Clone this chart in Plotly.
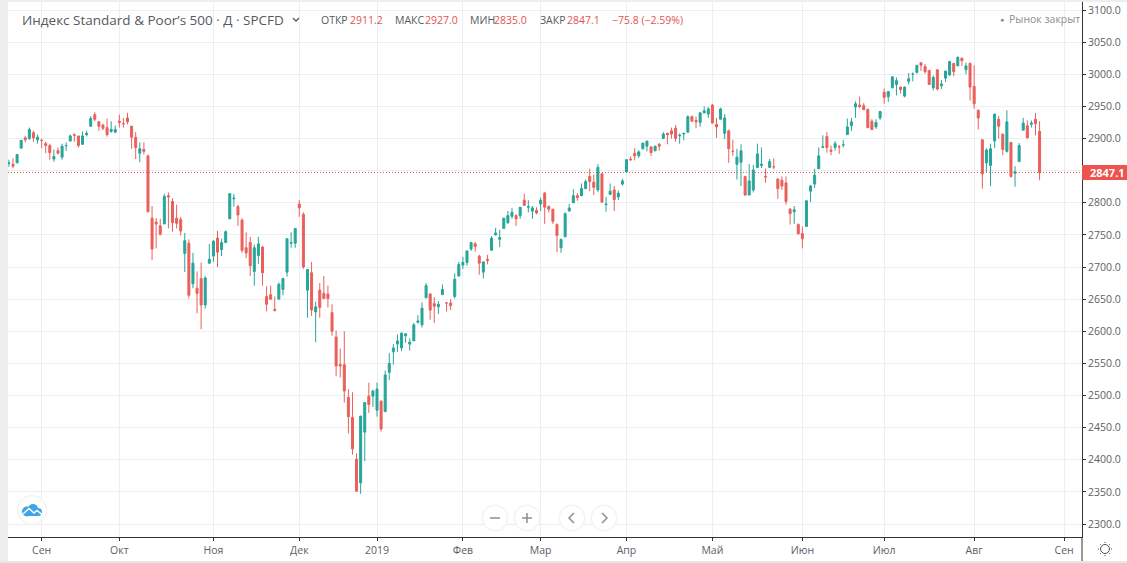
import plotly.graph_objects as go

# daily bars from 22 Aug 2018 to 23 Aug 2019
opens = [
    2861, 2860, 2862, 2885, 2901, 2900, 2909, 2898,
    2897, 2892, 2889, 2868, 2881, 2871, 2889, 2896, 2906, 2904, 2891, 2906, 2919, 2937, 2926, 2921, 2917, 2911, 2910,
    2927, 2923, 2932, 2919, 2902, 2877, 2883, 2873, 2776, 2770, 2764, 2767, 2811, 2802, 2776, 2774, 2721, 2737, 2674, 2667, 2682, 2641, 2706,
    2717, 2745, 2727, 2738, 2775, 2806, 2794, 2773, 2730, 2738, 2693, 2718, 2731, 2654, 2657, 2634, 2650, 2665, 2692, 2737, 2737,
    2798, 2782, 2664, 2691, 2630, 2664, 2659, 2658, 2629, 2591, 2548, 2548, 2497, 2466, 2401, 2364, 2443, 2499, 2499,
    2477, 2491, 2475, 2536, 2568, 2580, 2574, 2593, 2580, 2585, 2614, 2610, 2652, 2658, 2643, 2638, 2657, 2644, 2644, 2654, 2686,
    2703, 2707, 2728, 2736, 2717, 2692, 2712, 2726, 2750, 2743, 2760, 2769, 2779, 2780, 2780, 2804, 2793, 2787, 2788,
    2798, 2815, 2794, 2790, 2766, 2730, 2747, 2787, 2800, 2811, 2811, 2822, 2841, 2832, 2820, 2845, 2797, 2813, 2820, 2809, 2829,
    2848, 2868, 2877, 2873, 2884, 2888, 2887, 2881, 2891, 2900, 2908, 2912, 2916, 2904, 2907, 2910, 2934, 2928, 2925, 2940, 2938,
    2952, 2922, 2930, 2908, 2912, 2880, 2860, 2863, 2841, 2812, 2820, 2855, 2858, 2841, 2855, 2856, 2837, 2835, 2831, 2790, 2786, 2766,
    2752, 2763, 2818, 2829, 2853, 2886, 2903, 2882, 2886, 2887, 2890, 2906, 2920, 2949, 2952, 2951, 2945, 2927, 2918, 2932,
    2972, 2965, 2979, 2984, 2980, 2966, 2989, 3000, 3003, 3018, 3012, 3006, 2979, 3007, 2982, 2994, 2999, 3017, 3013, 3025, 3007, 3017,
    2981, 2944, 2898, 2862, 2858, 2896, 2930, 2907, 2880, 2894, 2846, 2864, 2913, 2920, 2922, 2930, 2911,
]
highs = [
    2867, 2869, 2876, 2898, 2904, 2917, 2912, 2906,
    2900, 2895, 2892, 2883, 2886, 2892, 2894, 2906, 2908, 2904, 2911, 2912, 2935, 2941, 2927, 2923, 2931, 2927, 2920,
    2937, 2932, 2940, 2920, 2910, 2894, 2894, 2875, 2795, 2776, 2775, 2814, 2816, 2807, 2797, 2778, 2753, 2743, 2722, 2693, 2707, 2686, 2736,
    2742, 2756, 2744, 2757, 2815, 2814, 2797, 2776, 2754, 2747, 2735, 2747, 2733, 2670, 2671, 2654, 2676, 2683, 2744, 2754, 2760,
    2804, 2785, 2696, 2708, 2646, 2675, 2686, 2671, 2642, 2601, 2573, 2600, 2510, 2505, 2410, 2468, 2489, 2520, 2509,
    2520, 2493, 2539, 2566, 2580, 2595, 2598, 2597, 2589, 2613, 2625, 2645, 2675, 2659, 2653, 2647, 2673, 2645, 2650, 2690, 2708,
    2716, 2725, 2738, 2739, 2719, 2708, 2719, 2748, 2761, 2758, 2776, 2787, 2792, 2782, 2793, 2814, 2804, 2795, 2793,
    2808, 2817, 2796, 2790, 2768, 2744, 2785, 2798, 2821, 2815, 2830, 2836, 2853, 2844, 2860, 2846, 2809, 2830, 2826, 2819, 2837,
    2868, 2872, 2885, 2882, 2893, 2896, 2887, 2889, 2893, 2910, 2909, 2917, 2921, 2908, 2909, 2936, 2936, 2934, 2940, 2950, 2949,
    2954, 2932, 2948, 2938, 2914, 2898, 2884, 2891, 2841, 2860, 2859, 2892, 2886, 2853, 2868, 2869, 2837, 2841, 2841, 2792, 2795, 2768,
    2763, 2804, 2828, 2853, 2886, 2905, 2910, 2889, 2896, 2890, 2898, 2931, 2932, 2958, 2965, 2955, 2947, 2930, 2930, 2943,
    2978, 2974, 2996, 2995, 2981, 2981, 3002, 3003, 3014, 3018, 3016, 3006, 2998, 3007, 2991, 3005, 3020, 3017, 3028, 3026, 3018, 3018,
    3014, 2945, 2898, 2885, 2892, 2938, 2935, 2907, 2944, 2894, 2857, 2893, 2932, 2928, 2928, 2940, 2927,
]
lows = [
    2856, 2854, 2862, 2885, 2894, 2898, 2895, 2892,
    2885, 2877, 2867, 2864, 2875, 2867, 2881, 2896, 2895, 2886, 2890, 2903, 2919, 2927, 2912, 2913, 2903, 2909, 2908,
    2917, 2917, 2922, 2884, 2868, 2863, 2875, 2785, 2711, 2729, 2749, 2767, 2760, 2755, 2760, 2749, 2692, 2651, 2667, 2628, 2603, 2635, 2705,
    2708, 2700, 2717, 2738, 2775, 2794, 2764, 2722, 2714, 2686, 2671, 2705, 2671, 2631, 2649, 2631, 2650, 2656, 2685, 2730, 2730,
    2778, 2697, 2621, 2624, 2583, 2621, 2650, 2637, 2593, 2530, 2528, 2489, 2441, 2408, 2351, 2347, 2398, 2473, 2482,
    2467, 2444, 2474, 2524, 2548, 2568, 2569, 2582, 2570, 2585, 2612, 2606, 2652, 2618, 2613, 2627, 2657, 2631, 2633, 2651, 2685,
    2697, 2702, 2725, 2724, 2688, 2682, 2704, 2726, 2749, 2731, 2760, 2767, 2775, 2764, 2775, 2795, 2785, 2775, 2782,
    2787, 2767, 2785, 2767, 2723, 2722, 2747, 2787, 2800, 2803, 2810, 2821, 2818, 2812, 2817, 2800, 2786, 2812, 2787, 2804, 2827,
    2848, 2865, 2866, 2870, 2883, 2880, 2873, 2880, 2881, 2900, 2891, 2900, 2895, 2892, 2897, 2908, 2926, 2916, 2918, 2939, 2932,
    2923, 2901, 2930, 2899, 2862, 2873, 2836, 2826, 2811, 2812, 2816, 2855, 2854, 2831, 2855, 2852, 2806, 2820, 2797, 2766, 2767, 2750,
    2729, 2763, 2801, 2823, 2853, 2886, 2878, 2874, 2881, 2876, 2886, 2906, 2912, 2932, 2947, 2944, 2916, 2913, 2915, 2929,
    2954, 2957, 2978, 2967, 2970, 2964, 2984, 2989, 3001, 3005, 3001, 2984, 2975, 2975, 2977, 2988, 2997, 2997, 3013, 3013, 3000, 2959,
    2946, 2914, 2822, 2847, 2826, 2885, 2900, 2874, 2878, 2839, 2825, 2864, 2913, 2900, 2917, 2905, 2835,
]
closes = [
    2862, 2857, 2875, 2897, 2898, 2914, 2901, 2902,
    2897, 2889, 2878, 2872, 2877, 2888, 2889, 2904, 2905, 2889, 2904, 2908, 2931, 2930, 2919, 2916, 2906, 2914, 2914,
    2925, 2923, 2926, 2902, 2886, 2884, 2880, 2786, 2728, 2767, 2751, 2810, 2809, 2769, 2768, 2756, 2741, 2656, 2706, 2659, 2641, 2683, 2712,
    2740, 2723, 2738, 2755, 2814, 2807, 2781, 2726, 2722, 2702, 2730, 2736, 2691, 2642, 2650, 2632, 2673, 2682, 2744, 2738, 2760,
    2792, 2700, 2696, 2633, 2638, 2637, 2651, 2651, 2600, 2546, 2546, 2507, 2467, 2417, 2351, 2468, 2489, 2486, 2507,
    2510, 2448, 2532, 2550, 2574, 2585, 2597, 2596, 2583, 2610, 2616, 2636, 2671, 2633, 2639, 2642, 2665, 2644, 2640, 2681, 2704,
    2707, 2725, 2738, 2732, 2706, 2708, 2710, 2745, 2753, 2746, 2776, 2780, 2785, 2775, 2793, 2796, 2794, 2792, 2784,
    2804, 2793, 2790, 2771, 2749, 2743, 2783, 2792, 2811, 2808, 2822, 2833, 2833, 2824, 2855, 2801, 2798, 2818, 2805, 2815, 2834,
    2867, 2867, 2873, 2879, 2893, 2896, 2878, 2888, 2888, 2907, 2906, 2907, 2900, 2905, 2908, 2934, 2927, 2926, 2940, 2943, 2946,
    2924, 2918, 2946, 2932, 2884, 2880, 2871, 2881, 2812, 2834, 2851, 2876, 2860, 2840, 2864, 2856, 2822, 2826, 2802, 2783, 2789, 2752,
    2744, 2803, 2826, 2843, 2873, 2887, 2886, 2880, 2892, 2887, 2890, 2918, 2926, 2954, 2950, 2945, 2917, 2914, 2925, 2942,
    2964, 2973, 2996, 2990, 2976, 2980, 2993, 3000, 3014, 3014, 3004, 2984, 2995, 2977, 2985, 3005, 3020, 3004, 3026, 3021, 3013, 2980,
    2954, 2932, 2845, 2882, 2884, 2938, 2919, 2883, 2926, 2841, 2848, 2889, 2924, 2901, 2924, 2923, 2847,
]

month_labels = ['Сен', 'Окт', 'Ноя', 'Дек', '2019', 'Фев', 'Мар', 'Апр', 'Май', 'Июн', 'Июл', 'Авг', 'Сен']
month_bars = [8, 27, 50, 71, 90, 111, 130, 151, 172, 194, 214, 236, 258]
price_ticks = list(range(2300, 3101, 50))
last_price = 2847.1

W, H = 1127, 563
LEFT, RIGHT, TOP, BOTTOM = 8, 1082, 2, 537
UP, DOWN = '#26a69a', '#e9605a'
GRID = '#e9eff3'
TEXT = '#5d6066'
FONT = 'Open Sans'


def px(x):
    return (x - LEFT) / (RIGHT - LEFT)


def py(y):
    return (BOTTOM - y) / (BOTTOM - TOP)


bars = list(range(len(closes)))

fig = go.Figure(go.Candlestick(
    x=bars, open=opens, high=highs, low=lows, close=closes,
    increasing=dict(line=dict(color=UP, width=1), fillcolor=UP),
    decreasing=dict(line=dict(color=DOWN, width=1), fillcolor=DOWN),
    whiskerwidth=0,
    showlegend=False,
))

# last price line
fig.add_hline(y=last_price, line=dict(color='#e9605a', width=1, dash='1px,2px'))

shapes = []


def rect(x0, y0, x1, y1, color):
    shapes.append(dict(type='rect', xref='paper', yref='paper', layer='above',
                       x0=px(x0), x1=px(x1), y0=py(y0), y1=py(y1),
                       fillcolor=color, line=dict(width=0)))


def circle(cx, cy, r, color, line='rgba(0,0,0,0)', width=1):
    shapes.append(dict(type='circle', xref='paper', yref='paper', layer='above',
                       x0=px(cx - r), x1=px(cx + r), y0=py(cy + r), y1=py(cy - r),
                       fillcolor=color, line=dict(width=width, color=line)))


def seg(pts, color, width=1.5):
    path = 'M' + ' L'.join(f'{px(x):.5f},{py(y):.5f}' for x, y in pts)
    shapes.append(dict(type='path', xref='paper', yref='paper', layer='above', path=path,
                       line=dict(color=color, width=width)))


# frame strips
rect(0, 0, LEFT, H, '#eeeeee')
rect(0, 0, W, TOP, '#eeeeee')
rect(0, 561, W, H, '#e6e6e6')
rect(RIGHT, 165, W, 180, '#ef5350')
seg([(RIGHT, BOTTOM), (RIGHT, 561)], '#333333', 1)

# nav buttons
for cx in [495, 527, 572, 604]:
    circle(cx, 518, 13.5, '#f1f3f5')
    circle(cx, 518, 12, '#ffffff')
seg([(490, 518), (500, 518)], '#8a8f96')
seg([(522, 518), (532, 518)], '#8a8f96')
seg([(527, 513), (527, 523)], '#8a8f96')
seg([(574, 513), (569, 518), (574, 523)], '#8a8f96')
seg([(602, 513), (607, 518), (602, 523)], '#8a8f96')

# logo: cloud with a white zigzag
circle(32, 510, 15, '#f1f3f5')
circle(32, 510, 13.5, '#ffffff')
LOGO = '#3fa4e6'
circle(27, 511.5, 5, LOGO)
circle(33, 509, 5, LOGO)
circle(38, 512, 4, LOGO)
rect(26, 512, 38, 516, LOGO)
seg([(23, 514), (29, 508.5), (34, 513), (37, 510.5), (42, 514.5)], '#ffffff', 1.5)

# settings icon
circle(1105, 549, 4.5, 'rgba(0,0,0,0)', '#4a4f55', 1)
for dx, dy in [(0, -7), (0, 7), (-7, 0), (7, 0), (-5, -5), (5, -5), (-5, 5), (5, 5)]:
    seg([(1105 + dx * 0.86, 549 + dy * 0.86), (1105 + dx, 549 + dy)], '#4a4f55', 1)

# legend chevron
seg([(293, 18), (296, 21), (299, 18)], '#555a60', 1.3)

annotations = []


def label(x, y, text, color=TEXT, size=11, anchor='left', family=FONT):
    # plotly pads annotation text by about 2px
    annotations.append(dict(xref='paper', yref='paper', x=px(x - 2), y=py(y), text=text,
                            showarrow=False, xanchor=anchor, yanchor='middle',
                            font=dict(color=color, size=size, family=family)))


label(22, 20, 'Индекс Standard &amp; Poor’s 500 · Д · SPCFD', size=13.5, color='#555a60')
for x, text in [(321, 'ОТКР'), (395, 'МАКС'), (470, 'МИН'), (540, 'ЗАКР')]:
    label(x, 20, text, size=10.5, color='#555a60')
for x, text in [(350, '2911.2'), (425, '2927.0'), (494, '2835.0'), (567, '2847.1'),
                (612, '−75.8 (−2.59%)')]:
    label(x, 20, text, size=10.5, color='#e0544f')
label(1000, 19, '●', size=7, color='#8a8f96')
label(1009, 19, 'Рынок закрыт', size=10.5, color='#8a8f96')
label(1090, 172.5, '<b>2847.1</b>', size=11, color='#ffffff')

x_left = (LEFT - 8.91) / 4.09
x_right = (RIGHT - 8.91) / 4.09
y_span = 0.6425

fig.update_layout(
    width=W, height=H,
    margin=dict(l=LEFT, r=W - RIGHT, t=TOP, b=H - BOTTOM, pad=0),
    paper_bgcolor='white',
    plot_bgcolor='white',
    font=dict(family=FONT, color=TEXT, size=11),
    shapes=list(fig.layout.shapes) + shapes,
    annotations=annotations,
    xaxis=dict(
        range=[x_left, x_right],
        rangeslider=dict(visible=False),
        tickmode='array', tickvals=month_bars, ticktext=month_labels,
        ticks='outside', ticklen=3, tickcolor='#333333', tickfont=dict(size=10.5),
        showgrid=True, gridcolor=GRID, gridwidth=1, zeroline=False,
        showline=True, linecolor='#333333', linewidth=1,
    ),
    yaxis=dict(
        side='right',
        range=[2300 - (BOTTOM - 524) / y_span, 3100 + (10 - TOP) / y_span],
        tickmode='array', tickvals=price_ticks,
        # the red last-price tag sits over the 2850 label
        ticktext=['' if v == 2850 else f'{v:.1f}' for v in price_ticks],
        ticks='outside', ticklen=3, tickcolor='#333333', tickfont=dict(size=10.5),
        showgrid=True, gridcolor=GRID, gridwidth=1, zeroline=False,
        showline=True, linecolor='#333333', linewidth=1,
    ),
)

# the page's default body margin would push the chart 8px down and right
fig.write_html("out.html", config=dict(displayModeBar=False),
               post_script="document.body.style.margin='0';")
